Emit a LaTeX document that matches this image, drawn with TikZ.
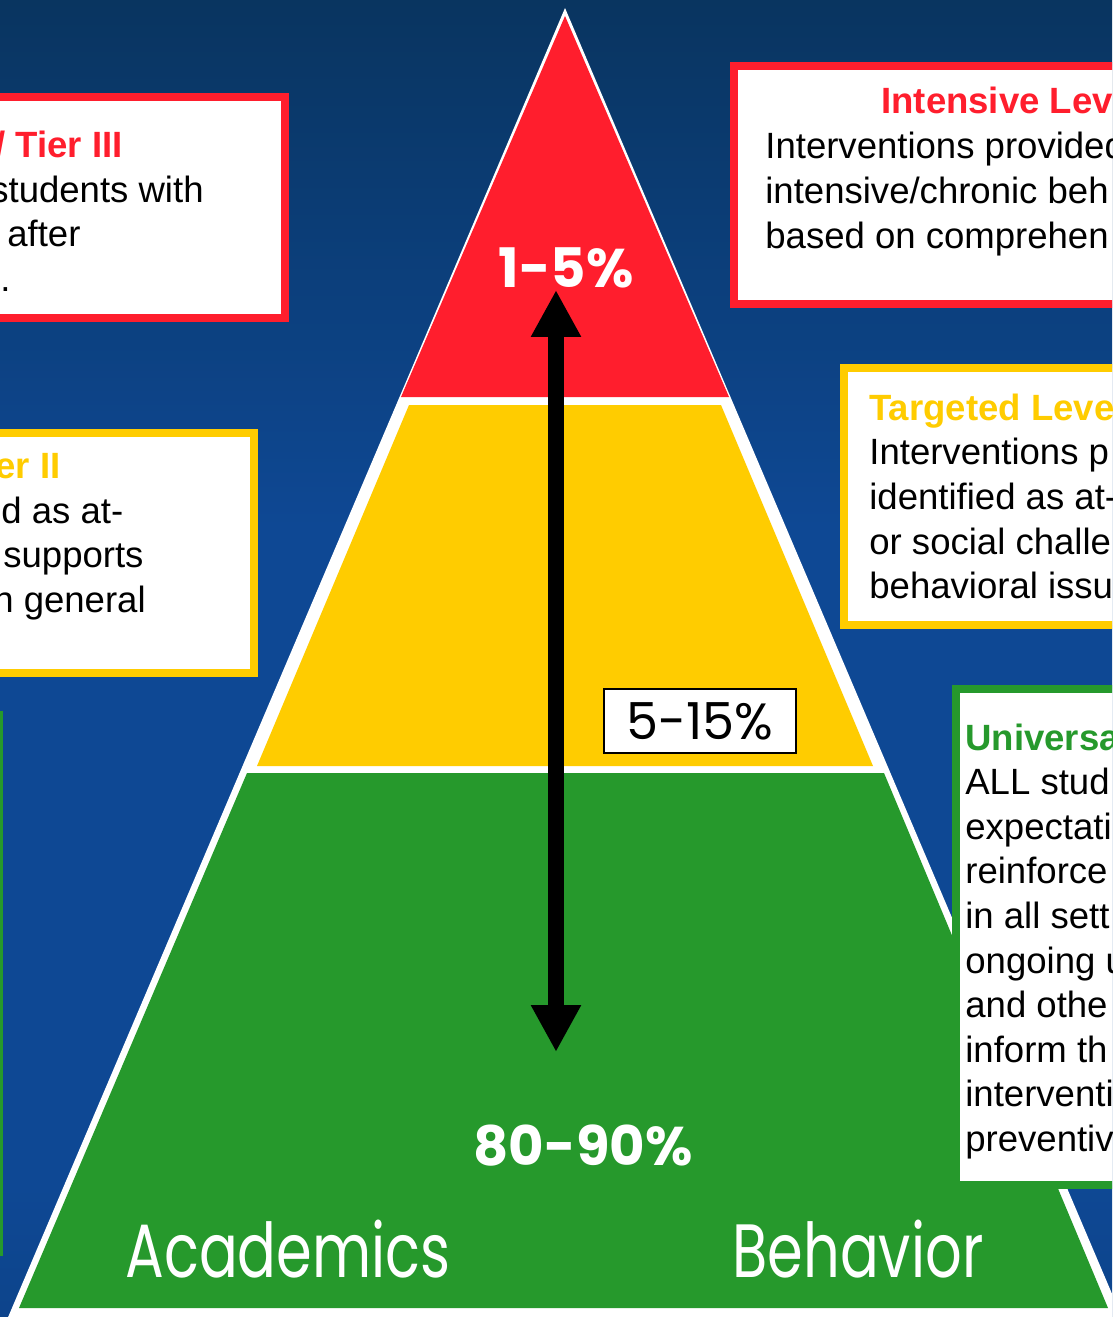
\documentclass[tikz,border=0pt]{standalone}
\usepackage{fontspec}
\setmainfont{Liberation Sans}
\newfontfamily\comicfont{Poppins}
\usetikzlibrary{arrows.meta}

\definecolor{tierred}{RGB}{255,30,45}
\definecolor{tieryellow}{RGB}{255,204,0}
\definecolor{tiergreen}{RGB}{38,153,44}
\definecolor{bgtop}{RGB}{6,40,62}
\definecolor{bgmid}{RGB}{14,72,148}
\definecolor{bgbot}{RGB}{8,48,96}
\pgfdeclareverticalshading{slidebg}{100bp}{color(0bp)=(bgbot); color(30bp)=(bgmid);
  color(55bp)=(bgmid); color(88bp)=(bgtop); color(100bp)=(bgtop)}

\begin{document}
\begin{tikzpicture}[
  x=0.02cm, y=-0.02cm,
  infobox/.style={draw=#1, line width=0.16cm, fill=white},
  bodytext/.style={anchor=base west, inner sep=0, font=\fontsize{20.8}{25}\selectfont},
  headtext/.style={bodytext, text=#1, font=\fontsize{20.8}{25}\selectfont\bfseries},
  pcttext/.style={inner sep=0, text=white, font=\comicfont\bfseries\fontsize{31}{36}\selectfont},
  handtext/.style={anchor=base, inner sep=0, text=white, xscale=0.76, transform shape,
    font=\comicfont\fontsize{43}{50}\selectfont},
  bigarrow/.style={line width=0.32cm, {Triangle[length=0.94cm,width=0.94cm]}-{Triangle[length=0.94cm,width=0.94cm]}},
]
\useasboundingbox (0,0) rectangle (1112,1317);
\clip (0,0) rectangle (1112,1317);
\shade[shading=slidebg] (0,0) rectangle (1112,1317);

% boxes on the left, mostly cut off
\draw[infobox=tierred] (-200,97) rectangle (285,318);
\node[headtext=tierred] (lr0) at (-5,158) {/ Tier III};
\node[bodytext] (lr1) at (-10,203) {students with};
\node[bodytext] (lr2) at (7,247) {after};
\node[bodytext] (lr3) at (0,292) {.};

\draw[infobox=tieryellow] (-200,433) rectangle (254,673);
\node[headtext=tieryellow] (ly0) at (-5,478) {er II};
\node[bodytext] (ly1) at (1,523) {d as at-};
\node[bodytext] (ly2) at (3,567) {supports};
\node[bodytext] (ly3) at (-7,612) {n general};

\draw[tiergreen, line width=0.16cm] (-200,715) rectangle (-1,1252);

% pyramid
\fill[white] (565,8) -- (1124,1322) -- (6,1322) -- cycle;
\fill[tierred] (565,16) -- (729,397) -- (401,397) -- cycle;
\fill[tieryellow] (409,405) -- (721,405) -- (873,766) -- (257,766) -- cycle;
\fill[tiergreen] (247,773) -- (884,773) -- (1108,1308) -- (19,1308) -- cycle;

\coordinate (uptip) at (556,290);
\coordinate (downtip) at (556,1052);
\draw[bigarrow] (downtip) -- (uptip);

\node[pcttext] (topct) at (566,268) {1-5\%};
\node[draw=black, line width=0.04cm, fill=white, minimum width=3.86cm, minimum height=1.28cm,
  inner sep=0, font=\comicfont\fontsize{29}{34}\selectfont] (midpct) at (700,721) {5-15\%};
\node[pcttext] (botpct) at (583,1146) {80-90\%};
\node[handtext] (acad) at (288,1277) {Academics};
\node[handtext] (behav) at (858,1277) {Behavior};

% boxes on the right
\draw[infobox=tierred] (734,66) rectangle (1200,304);
\node[headtext=tierred] (rr0) at (881,114) {Intensive Lev};
\foreach \txt [count=\i] in {Interventions provided, intensive/chronic beh, based on comprehen}
  \node[bodytext] (rr\i) at (765,114+44.7*\i) {\txt};

\draw[infobox=tieryellow] (844,368) rectangle (1200,625);
\node[headtext=tieryellow] (ry0) at (869,420) {Targeted Leve};
\foreach \txt [count=\i] in {Interventions p, identified as at-, or social challe, behavioral issu}
  \node[bodytext] (ry\i) at (869,420+44.7*\i) {\txt};

\draw[infobox=tiergreen] (956,689) rectangle (1200,1185);
\node[headtext=tiergreen] (rg0) at (965,750) {Universa};
\foreach \txt [count=\i] in {ALL stud, expectati, reinforce, in all sett, ongoing u, and othe, inform th, interventi, preventiv}
  \node[bodytext] (rg\i) at (965,750+44.6*\i) {\txt};
\end{tikzpicture}
\end{document}
